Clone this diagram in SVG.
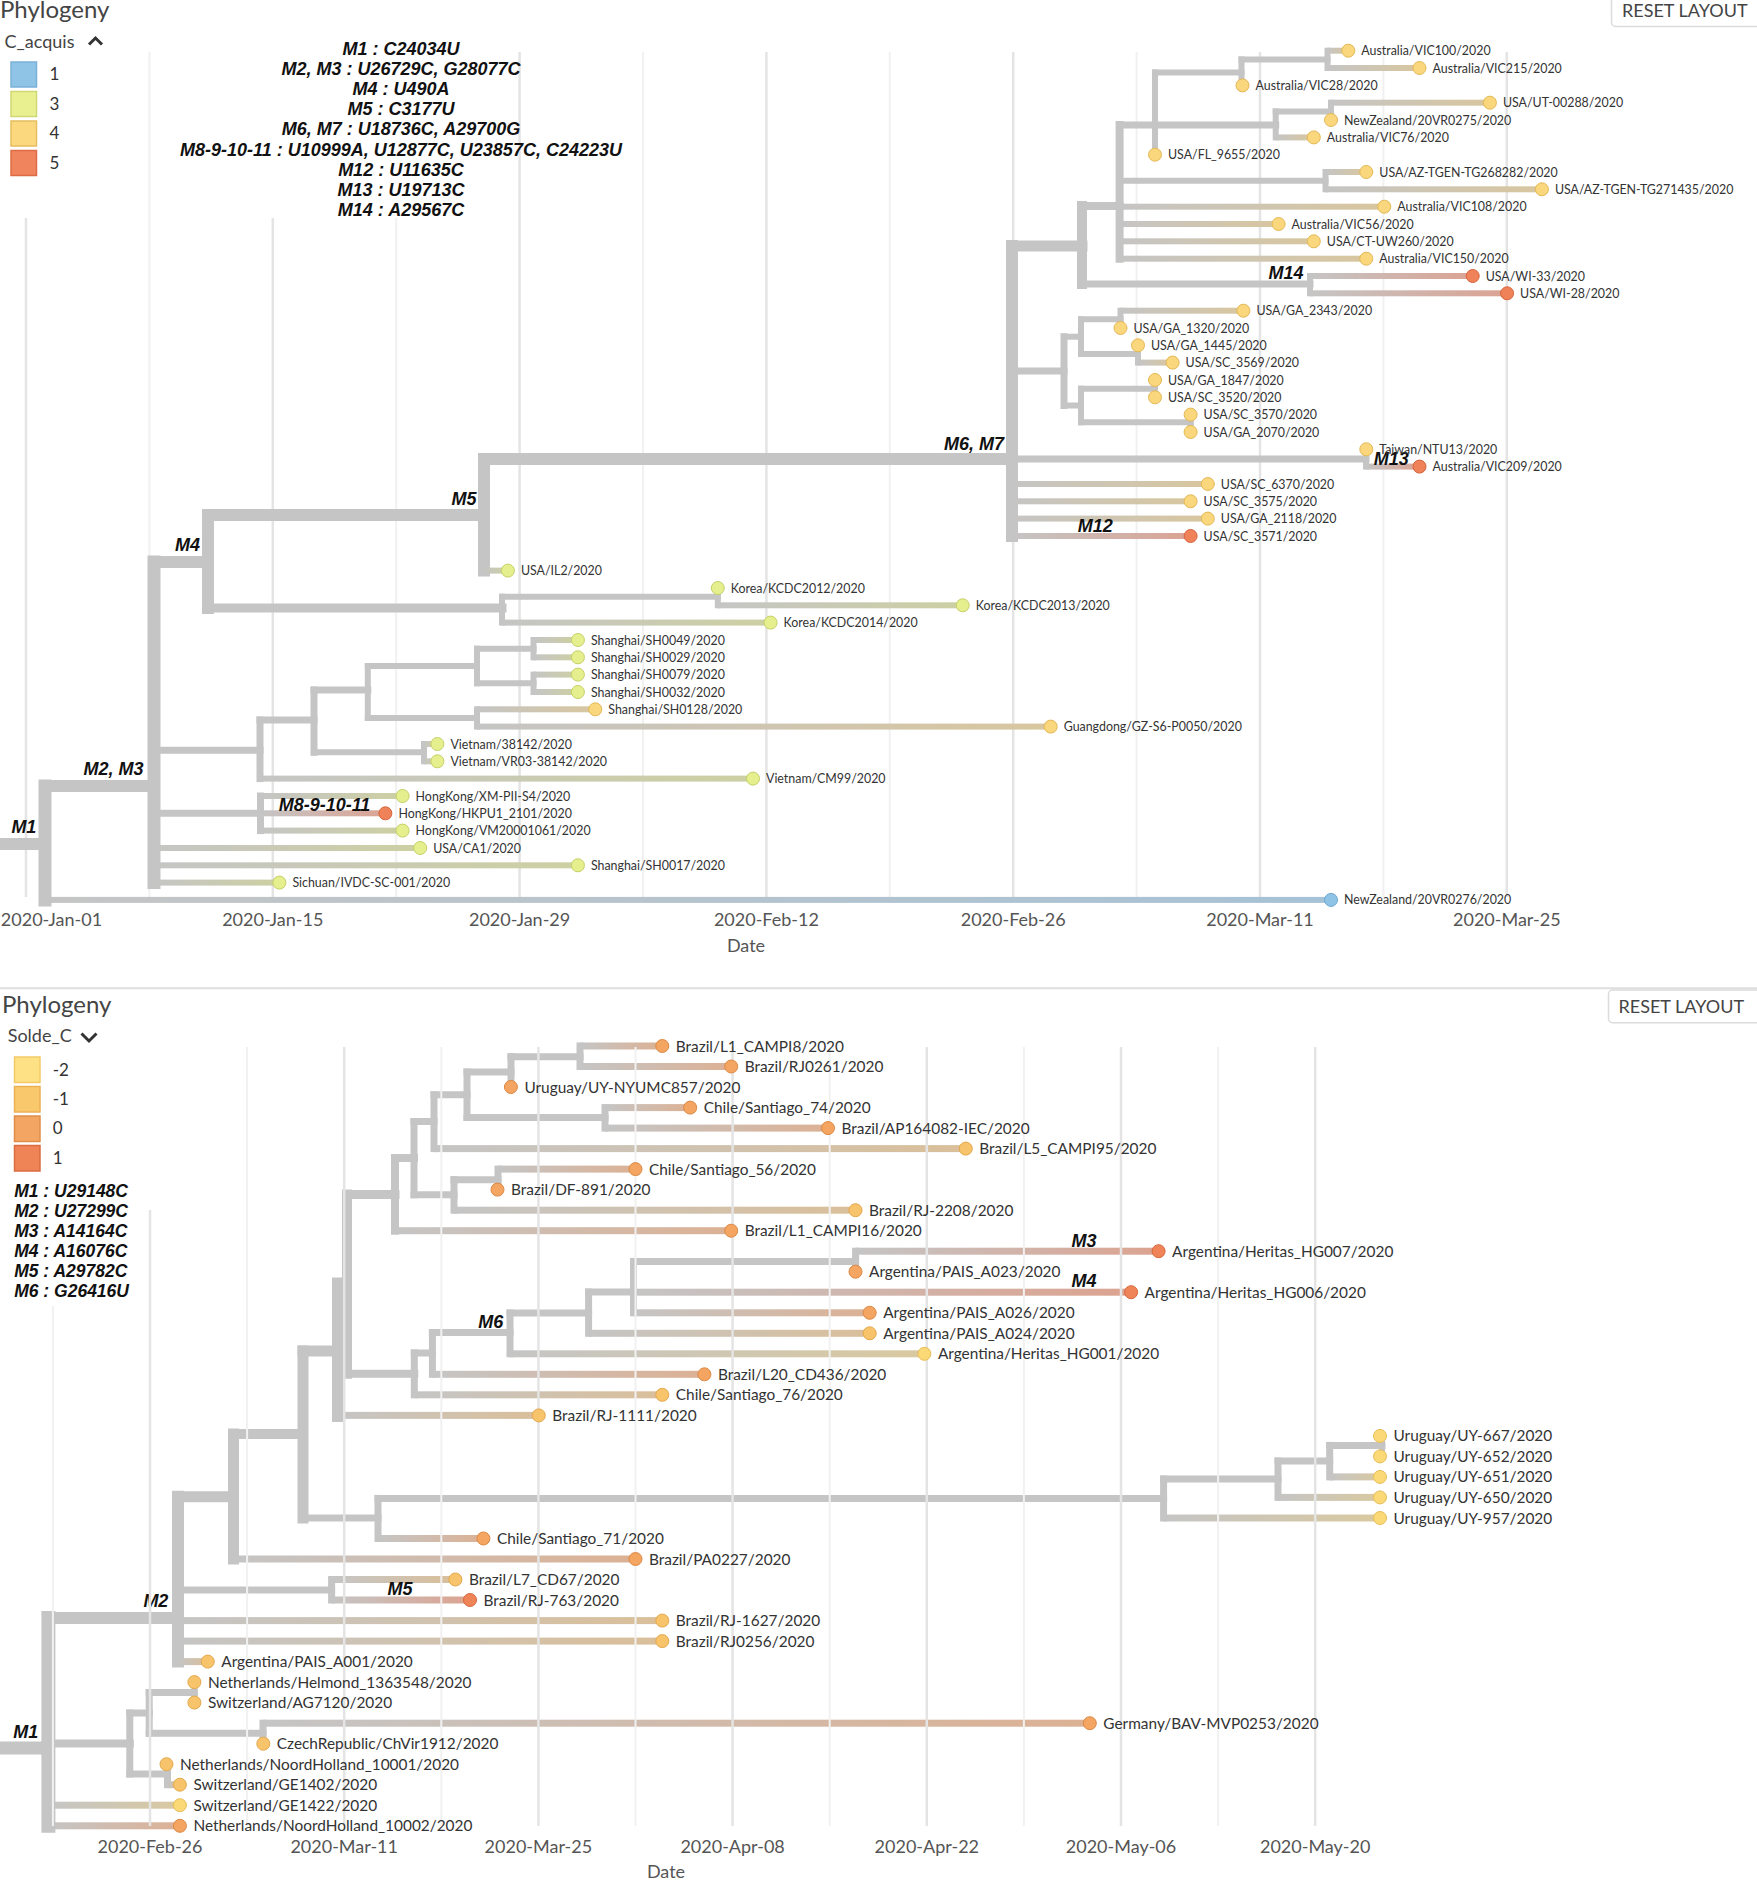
<svg xmlns="http://www.w3.org/2000/svg" width="1757" height="1887" viewBox="0 0 1757 1887">
<style>
.ttl{font-family:Lato,'Open Sans',sans-serif;font-size:24px;fill:#444}
.sel{font-family:Lato,'Open Sans',sans-serif;font-size:18px;fill:#444}
.lg{font-family:Lato,'Open Sans',sans-serif;font-size:17px;fill:#333}
.btn{font-family:Lato,'Open Sans',sans-serif;font-size:18px;fill:#444}
.ax{font-family:Lato,'Open Sans',sans-serif;font-size:18px;fill:#555;text-anchor:middle}
.mu{font-family:'Liberation Sans',Arial,sans-serif;font-weight:bold;font-style:italic;font-size:17.5px;fill:#111}
.mum{font-family:'Liberation Sans',Arial,sans-serif;font-weight:bold;font-style:italic;font-size:18px;fill:#111;text-anchor:middle}
.me{font-family:'Liberation Sans',Arial,sans-serif;font-weight:bold;font-style:italic;font-size:18px;fill:#111;text-anchor:end}
.tl{font-family:Lato,'Open Sans',sans-serif;font-size:12.4px;fill:#333}
.bl{font-family:Lato,'Open Sans',sans-serif;font-size:15.4px;fill:#333}
.gd{stroke:#e4e4e4;stroke-width:2.5}
.gl{stroke:#f1f1f1;stroke-width:2}
.br line{stroke:#c5c5c5;stroke-linecap:square}
.c1{fill:#8fc4e6;stroke:#6fa8d0;stroke-width:1}
.c3{fill:#e6ef8e;stroke:#c6d067;stroke-width:1}
.c4{fill:#fad77c;stroke:#e3b856;stroke-width:1}
.c5{fill:#f0825a;stroke:#d6653e;stroke-width:1}
.m2{fill:#fbd977;stroke:#e7bd58;stroke-width:1}
.m1{fill:#f8c46b;stroke:#e4a84e;stroke-width:1}
.z0{fill:#f3a561;stroke:#dc8945;stroke-width:1}
.p1{fill:#ef8458;stroke:#d6683d;stroke-width:1}
</style>
<defs>
<linearGradient id="g1" x1="0" y1="0" x2="1" y2="0"><stop offset="0" stop-color="#c5c5c5"/><stop offset="1" stop-color="#a6c2d6"/></linearGradient>
<linearGradient id="g3" x1="0" y1="0" x2="1" y2="0"><stop offset="0" stop-color="#c5c5c5"/><stop offset="1" stop-color="#cdd0a2"/></linearGradient>
<linearGradient id="g4" x1="0" y1="0" x2="1" y2="0"><stop offset="0" stop-color="#c5c5c5"/><stop offset="1" stop-color="#d8c69e"/></linearGradient>
<linearGradient id="g5" x1="0" y1="0" x2="1" y2="0"><stop offset="0" stop-color="#c5c5c5"/><stop offset="1" stop-color="#dba393"/></linearGradient>
<linearGradient id="gm2" x1="0" y1="0" x2="1" y2="0"><stop offset="0" stop-color="#c5c5c5"/><stop offset="1" stop-color="#d9c9a0"/></linearGradient>
<linearGradient id="gm1" x1="0" y1="0" x2="1" y2="0"><stop offset="0" stop-color="#c5c5c5"/><stop offset="1" stop-color="#dabf9a"/></linearGradient>
<linearGradient id="gz0" x1="0" y1="0" x2="1" y2="0"><stop offset="0" stop-color="#c5c5c5"/><stop offset="1" stop-color="#dcb194"/></linearGradient>
<linearGradient id="gp1" x1="0" y1="0" x2="1" y2="0"><stop offset="0" stop-color="#c5c5c5"/><stop offset="1" stop-color="#dca390"/></linearGradient>
</defs>
<rect x="0" y="0" width="1757" height="1887" fill="#fff"/>

<!-- ================= TOP PANEL ================= -->
<g id="top-grid">
<line class="gd" x1="26" y1="218" x2="26" y2="897"/>
<line class="gl" x1="149.4" y1="52" x2="149.4" y2="897"/>
<line class="gd" x1="272.8" y1="218" x2="272.8" y2="897"/>
<line class="gl" x1="396.2" y1="218" x2="396.2" y2="897"/>
<line class="gd" x1="519.6" y1="52" x2="519.6" y2="897"/>
<line class="gl" x1="643" y1="52" x2="643" y2="897"/>
<line class="gd" x1="766.4" y1="52" x2="766.4" y2="897"/>
<line class="gl" x1="889.8" y1="52" x2="889.8" y2="897"/>
<line class="gd" x1="1013.2" y1="52" x2="1013.2" y2="897"/>
<line class="gl" x1="1136.6" y1="52" x2="1136.6" y2="897"/>
<line class="gd" x1="1260" y1="52" x2="1260" y2="897"/>
<line class="gl" x1="1383.4" y1="52" x2="1383.4" y2="897"/>
<line class="gd" x1="1506.8" y1="52" x2="1506.8" y2="897"/>
</g>
<g id="top-header">
<text class="ttl" x="0" y="18">Phylogeny</text>
<text class="sel" x="4.5" y="48">C_acquis</text>
<polyline points="89,44.5 95.5,38 102,44.5" fill="none" stroke="#333" stroke-width="3"/>
<rect x="1611.5" y="-6" width="160" height="32.5" rx="4" fill="#fff" stroke="#dcdcdc" stroke-width="1.5"/>
<text class="btn" x="1622" y="17">RESET LAYOUT</text>
</g>
<g id="top-legend">
<rect x="11" y="62" width="25.5" height="25" fill="#8fc4e6" stroke="#7ab1d9" stroke-width="1.5"/>
<rect x="11" y="91.5" width="25.5" height="25" fill="#e8f090" stroke="#d0d876" stroke-width="1.5"/>
<rect x="11" y="121" width="25.5" height="25" fill="#fbd87e" stroke="#e6bd5f" stroke-width="1.5"/>
<rect x="11" y="150.5" width="25.5" height="25" fill="#f0845d" stroke="#dd6c46" stroke-width="1.5"/>
<text class="lg" x="49.5" y="80">1</text>
<text class="lg" x="49.5" y="110">3</text>
<text class="lg" x="49.5" y="139">4</text>
<text class="lg" x="49.5" y="169">5</text>
</g>
<g id="top-mutations">
<text class="mum" x="401" y="55">M1 : C24034U</text>
<text class="mum" x="401" y="75">M2, M3 : U26729C, G28077C</text>
<text class="mum" x="401" y="95">M4 : U490A</text>
<text class="mum" x="401" y="115">M5 : C3177U</text>
<text class="mum" x="401" y="135">M6, M7 : U18736C, A29700G</text>
<text class="mum" x="401" y="156">M8-9-10-11 : U10999A, U12877C, U23857C, C24223U</text>
<text class="mum" x="401" y="176">M12 : U11635C</text>
<text class="mum" x="401" y="196">M13 : U19713C</text>
<text class="mum" x="401" y="216">M14 : A29567C</text>
</g>
<g id="top-axis">
<text class="ax" x="51.5" y="926">2020-Jan-01</text>
<text class="ax" x="272.8" y="926">2020-Jan-15</text>
<text class="ax" x="519.6" y="926">2020-Jan-29</text>
<text class="ax" x="766.4" y="926">2020-Feb-12</text>
<text class="ax" x="1013.2" y="926">2020-Feb-26</text>
<text class="ax" x="1260" y="926">2020-Mar-11</text>
<text class="ax" x="1506.8" y="926">2020-Mar-25</text>
<text class="ax" x="746" y="952">Date</text>
</g>

<g id="connectors">
<g id="top-branches" class="br">
<line x1="0" y1="844" x2="45" y2="844" stroke-width="12"/>
<line x1="45" y1="786" x2="45" y2="899.9" stroke-width="13"/>
<line x1="45" y1="786" x2="154" y2="786" stroke-width="12"/>
<line x1="154" y1="562" x2="154" y2="882.6" stroke-width="13"/>
<line x1="154" y1="562" x2="208" y2="562" stroke-width="12"/>
<line x1="208" y1="515" x2="208" y2="608" stroke-width="12"/>
<line x1="208" y1="515" x2="484" y2="515" stroke-width="12"/>
<line x1="484" y1="459" x2="484" y2="570.6" stroke-width="12"/>
<line x1="484" y1="459" x2="1012" y2="459" stroke-width="12"/>
<line x1="1012" y1="246" x2="1012" y2="536" stroke-width="12"/>
<line x1="1012" y1="246" x2="1082" y2="246" stroke-width="11"/>
<line x1="1082" y1="206" x2="1082" y2="284" stroke-width="10"/>
<line x1="1082" y1="206" x2="1119.6" y2="206" stroke-width="8"/>
<line x1="1119.6" y1="125" x2="1119.6" y2="258.7" stroke-width="8"/>
<line x1="1119.6" y1="125" x2="1275.7" y2="125" stroke-width="7"/>
<line x1="1155" y1="72.4" x2="1155" y2="154.7" stroke-width="6"/>
<line x1="1155" y1="72.4" x2="1241.5" y2="72.4" stroke-width="6"/>
<line x1="1241.5" y1="59.4" x2="1241.5" y2="85.4" stroke-width="6"/>
<line x1="1241.5" y1="59.4" x2="1327.5" y2="59.4" stroke-width="6"/>
<line x1="1327.5" y1="50.7" x2="1327.5" y2="68" stroke-width="6"/>
<line x1="1275.7" y1="111.4" x2="1275.7" y2="137.4" stroke-width="6"/>
<line x1="1275.7" y1="111.4" x2="1331" y2="111.4" stroke-width="6"/>
<line x1="1331" y1="102.7" x2="1331" y2="120" stroke-width="6"/>
<line x1="1119.6" y1="180.7" x2="1325.5" y2="180.7" stroke-width="6"/>
<line x1="1325.5" y1="172" x2="1325.5" y2="189.3" stroke-width="6"/>
<line x1="1082" y1="284" x2="1310" y2="284" stroke-width="7"/>
<line x1="1310" y1="276" x2="1310" y2="293.3" stroke-width="6"/>
<line x1="1012" y1="371" x2="1064" y2="371" stroke-width="7"/>
<line x1="1064" y1="336.7" x2="1064" y2="405.5" stroke-width="7"/>
<line x1="1064" y1="336.7" x2="1081" y2="336.7" stroke-width="6"/>
<line x1="1081" y1="319.3" x2="1081" y2="354" stroke-width="6"/>
<line x1="1081" y1="319.3" x2="1120.5" y2="319.3" stroke-width="6"/>
<line x1="1120.5" y1="310.7" x2="1120.5" y2="328" stroke-width="6"/>
<line x1="1081" y1="354" x2="1138" y2="354" stroke-width="6"/>
<line x1="1138" y1="345.3" x2="1138" y2="362.6" stroke-width="6"/>
<line x1="1064" y1="405.5" x2="1081" y2="405.5" stroke-width="6"/>
<line x1="1081" y1="388.7" x2="1081" y2="422.3" stroke-width="6"/>
<line x1="1081" y1="388.7" x2="1155" y2="388.7" stroke-width="6"/>
<line x1="1155" y1="380" x2="1155" y2="397.3" stroke-width="6"/>
<line x1="1081" y1="422.3" x2="1190.6" y2="422.3" stroke-width="6"/>
<line x1="1190.6" y1="414.6" x2="1190.6" y2="432" stroke-width="6"/>
<line x1="1012" y1="459" x2="1366" y2="459" stroke-width="7"/>
<line x1="1366" y1="449.3" x2="1366" y2="466.6" stroke-width="6"/>
<line x1="208" y1="608" x2="502" y2="608" stroke-width="9"/>
<line x1="502" y1="596.7" x2="502" y2="622.6" stroke-width="6"/>
<line x1="502" y1="596.7" x2="717.8" y2="596.7" stroke-width="6"/>
<line x1="717.8" y1="588" x2="717.8" y2="605.3" stroke-width="6"/>
<line x1="154" y1="750.3" x2="260" y2="750.3" stroke-width="7"/>
<line x1="260" y1="720" x2="260" y2="778.6" stroke-width="7"/>
<line x1="260" y1="720" x2="314" y2="720" stroke-width="7"/>
<line x1="314" y1="690" x2="314" y2="752.3" stroke-width="7"/>
<line x1="314" y1="690" x2="367.8" y2="690" stroke-width="7"/>
<line x1="367.8" y1="666" x2="367.8" y2="718" stroke-width="6"/>
<line x1="367.8" y1="666" x2="477" y2="666" stroke-width="6"/>
<line x1="477" y1="648.7" x2="477" y2="683.3" stroke-width="6"/>
<line x1="477" y1="648.7" x2="533.5" y2="648.7" stroke-width="6"/>
<line x1="533.5" y1="640" x2="533.5" y2="657.3" stroke-width="6"/>
<line x1="477" y1="683.3" x2="533.5" y2="683.3" stroke-width="6"/>
<line x1="533.5" y1="674.6" x2="533.5" y2="692" stroke-width="6"/>
<line x1="367.8" y1="718" x2="477" y2="718" stroke-width="6"/>
<line x1="477" y1="709.3" x2="477" y2="726.6" stroke-width="6"/>
<line x1="314" y1="752.3" x2="424" y2="752.3" stroke-width="6"/>
<line x1="424" y1="744" x2="424" y2="761.3" stroke-width="6"/>
<line x1="154" y1="813.3" x2="260.5" y2="813.3" stroke-width="7"/>
<line x1="260.5" y1="796" x2="260.5" y2="830.6" stroke-width="7"/>
</g>
<g id="top-tip-branches">
<rect x="45" y="896.9" width="1286" height="6" fill="url(#g1)"/>
<rect x="1327.5" y="47.7" width="20.8" height="6" fill="url(#g4)"/>
<rect x="1327.5" y="65" width="92" height="6" fill="url(#g4)"/>
<rect x="1331" y="99.7" width="158.9" height="6" fill="url(#g4)"/>
<rect x="1275.7" y="134.4" width="38.1" height="6" fill="url(#g4)"/>
<rect x="1325.5" y="169" width="40.8" height="6" fill="url(#g4)"/>
<rect x="1325.5" y="186.3" width="216.4" height="6" fill="url(#g4)"/>
<rect x="1119.6" y="203.7" width="264.7" height="6" fill="url(#g4)"/>
<rect x="1119.6" y="221" width="159" height="6" fill="url(#g4)"/>
<rect x="1119.6" y="238.3" width="194.2" height="6" fill="url(#g4)"/>
<rect x="1119.6" y="255.7" width="246.7" height="6" fill="url(#g4)"/>
<rect x="1310" y="273" width="162.7" height="6" fill="url(#g5)"/>
<rect x="1310" y="290.3" width="197.1" height="6" fill="url(#g5)"/>
<rect x="1120.5" y="307.7" width="122.9" height="6" fill="url(#g4)"/>
<rect x="1138" y="359.6" width="34.6" height="6" fill="url(#g4)"/>
<rect x="1366" y="463.6" width="53.5" height="6" fill="url(#g5)"/>
<rect x="1012" y="481" width="195.8" height="6" fill="url(#g4)"/>
<rect x="1012" y="498.3" width="178.6" height="6" fill="url(#g4)"/>
<rect x="1012" y="515.6" width="195.8" height="6" fill="url(#g4)"/>
<rect x="1012" y="533" width="178.6" height="6" fill="url(#g5)"/>
<rect x="484" y="567.6" width="23.9" height="6" fill="url(#g3)"/>
<rect x="717.8" y="602.3" width="244.9" height="6" fill="url(#g3)"/>
<rect x="502" y="619.6" width="268.6" height="6" fill="url(#g3)"/>
<rect x="533.5" y="637" width="44.4" height="6" fill="url(#g3)"/>
<rect x="533.5" y="654.3" width="44.4" height="6" fill="url(#g3)"/>
<rect x="533.5" y="671.6" width="44.4" height="6" fill="url(#g3)"/>
<rect x="533.5" y="689" width="44.4" height="6" fill="url(#g3)"/>
<rect x="477" y="706.3" width="118.3" height="6" fill="url(#g4)"/>
<rect x="477" y="723.6" width="573.7" height="6" fill="url(#g4)"/>
<rect x="424" y="741" width="13.4" height="6" fill="url(#g3)"/>
<rect x="424" y="758.3" width="13.4" height="6" fill="url(#g3)"/>
<rect x="260" y="775.6" width="493" height="6" fill="url(#g3)"/>
<rect x="260.5" y="793" width="142.1" height="6" fill="url(#g3)"/>
<rect x="260.5" y="810.3" width="124.9" height="6" fill="url(#g5)"/>
<rect x="260.5" y="827.6" width="142.1" height="6" fill="url(#g3)"/>
<rect x="154" y="845" width="266.2" height="6" fill="url(#g3)"/>
<rect x="154" y="862.3" width="423.9" height="6" fill="url(#g3)"/>
<rect x="154" y="879.6" width="125.4" height="6" fill="url(#g3)"/>
</g>
<g id="top-branch-labels">
<text class="me" x="36.4" y="833">M1</text>
<text class="me" x="143.5" y="775">M2, M3</text>
<text class="me" x="200" y="551">M4</text>
<text class="me" x="476.5" y="505">M5</text>
<text class="me" x="1004" y="450">M6, M7</text>
<text class="me" x="370.4" y="810.7">M8-9-10-11</text>
<text class="me" x="1112.7" y="531.7">M12</text>
<text class="me" x="1408.8" y="465">M13</text>
<text class="me" x="1303.5" y="279.3">M14</text>
</g>

<g id="bottom-branches" class="br">
<line x1="2" y1="1748" x2="48.4" y2="1748" stroke-width="13"/>
<line x1="48.4" y1="1618" x2="48.4" y2="1825.8" stroke-width="14"/>
<line x1="48.4" y1="1618" x2="178" y2="1618" stroke-width="12"/>
<line x1="48.4" y1="1743.5" x2="129.8" y2="1743.5" stroke-width="8"/>
<line x1="129.8" y1="1713" x2="129.8" y2="1774" stroke-width="7"/>
<line x1="129.8" y1="1713" x2="149.2" y2="1713" stroke-width="7"/>
<line x1="149.2" y1="1692.5" x2="149.2" y2="1733.3" stroke-width="7"/>
<line x1="149.2" y1="1692.5" x2="194.4" y2="1692.5" stroke-width="7"/>
<line x1="194.4" y1="1682.1" x2="194.4" y2="1702.6" stroke-width="6"/>
<line x1="149.2" y1="1733.3" x2="263" y2="1733.3" stroke-width="7"/>
<line x1="263" y1="1723.2" x2="263" y2="1743.7" stroke-width="7"/>
<line x1="129.8" y1="1774" x2="167.5" y2="1774" stroke-width="7"/>
<line x1="167.5" y1="1764.2" x2="167.5" y2="1784.7" stroke-width="7"/>
<line x1="178" y1="1496.7" x2="178" y2="1661.6" stroke-width="12"/>
<line x1="178" y1="1496.7" x2="233.5" y2="1496.7" stroke-width="11"/>
<line x1="178" y1="1590" x2="331.6" y2="1590" stroke-width="7"/>
<line x1="331.6" y1="1579.5" x2="331.6" y2="1600" stroke-width="7"/>
<line x1="233.5" y1="1434" x2="233.5" y2="1559" stroke-width="11"/>
<line x1="233.5" y1="1434" x2="303" y2="1434" stroke-width="10"/>
<line x1="303" y1="1351" x2="303" y2="1518" stroke-width="11"/>
<line x1="303" y1="1351" x2="338.5" y2="1351" stroke-width="11"/>
<line x1="303" y1="1518" x2="378" y2="1518" stroke-width="7"/>
<line x1="378" y1="1498.4" x2="378" y2="1538.5" stroke-width="7"/>
<line x1="378" y1="1498.4" x2="1163.6" y2="1498.4" stroke-width="7"/>
<line x1="1163.6" y1="1479" x2="1163.6" y2="1518" stroke-width="7"/>
<line x1="1163.6" y1="1479" x2="1278" y2="1479" stroke-width="7"/>
<line x1="1278" y1="1461" x2="1278" y2="1497.4" stroke-width="7"/>
<line x1="1278" y1="1461" x2="1329.7" y2="1461" stroke-width="7"/>
<line x1="1329.7" y1="1445.4" x2="1329.7" y2="1476.9" stroke-width="7"/>
<line x1="1329.7" y1="1445.4" x2="1382" y2="1445.4" stroke-width="7"/>
<line x1="1382" y1="1435.9" x2="1382" y2="1456.4" stroke-width="6"/>
<line x1="338.5" y1="1284" x2="338.5" y2="1415.4" stroke-width="13"/>
<line x1="338.5" y1="1284" x2="347" y2="1284" stroke-width="10"/>
<line x1="347" y1="1194.4" x2="347" y2="1373.7" stroke-width="10"/>
<line x1="347" y1="1194.4" x2="395" y2="1194.4" stroke-width="9"/>
<line x1="347" y1="1373.7" x2="414.3" y2="1373.7" stroke-width="8"/>
<line x1="395" y1="1158" x2="395" y2="1230.7" stroke-width="8"/>
<line x1="395" y1="1158" x2="414" y2="1158" stroke-width="8"/>
<line x1="414" y1="1121.5" x2="414" y2="1194.8" stroke-width="7"/>
<line x1="414" y1="1121.5" x2="434" y2="1121.5" stroke-width="7"/>
<line x1="414" y1="1194.8" x2="454" y2="1194.8" stroke-width="7"/>
<line x1="434" y1="1094.8" x2="434" y2="1148.6" stroke-width="7"/>
<line x1="434" y1="1094.8" x2="467" y2="1094.8" stroke-width="7"/>
<line x1="467" y1="1072" x2="467" y2="1117.5" stroke-width="7"/>
<line x1="467" y1="1072" x2="511" y2="1072" stroke-width="7"/>
<line x1="467" y1="1117.5" x2="605" y2="1117.5" stroke-width="7"/>
<line x1="511" y1="1056.7" x2="511" y2="1087" stroke-width="7"/>
<line x1="511" y1="1056.7" x2="580" y2="1056.7" stroke-width="7"/>
<line x1="580" y1="1046" x2="580" y2="1066.5" stroke-width="7"/>
<line x1="605" y1="1107.6" x2="605" y2="1128.1" stroke-width="7"/>
<line x1="454" y1="1179.7" x2="454" y2="1210.2" stroke-width="7"/>
<line x1="454" y1="1179.7" x2="498" y2="1179.7" stroke-width="7"/>
<line x1="498" y1="1169.1" x2="498" y2="1189.6" stroke-width="7"/>
<line x1="414.3" y1="1353" x2="414.3" y2="1394.8" stroke-width="7"/>
<line x1="414.3" y1="1353" x2="432.4" y2="1353" stroke-width="7"/>
<line x1="432.4" y1="1332.5" x2="432.4" y2="1374.3" stroke-width="7"/>
<line x1="432.4" y1="1332.5" x2="510" y2="1332.5" stroke-width="7"/>
<line x1="510" y1="1313" x2="510" y2="1353.8" stroke-width="7"/>
<line x1="510" y1="1313" x2="588.6" y2="1313" stroke-width="7"/>
<line x1="588.6" y1="1292" x2="588.6" y2="1333.3" stroke-width="7"/>
<line x1="588.6" y1="1292" x2="633.5" y2="1292" stroke-width="7"/>
<line x1="633.5" y1="1261.4" x2="633.5" y2="1312.8" stroke-width="7"/>
<line x1="633.5" y1="1261.4" x2="855.6" y2="1261.4" stroke-width="7"/>
<line x1="855.6" y1="1251.2" x2="855.6" y2="1271.7" stroke-width="7"/>
</g>
<g id="bottom-tip-branches">
<rect x="48.4" y="1801.7" width="131.5" height="7" fill="url(#gm2)"/>
<rect x="48.4" y="1822.3" width="131.5" height="7" fill="url(#gz0)"/>
<rect x="263" y="1719.7" width="826.8" height="7" fill="url(#gz0)"/>
<rect x="167.5" y="1781.2" width="12.4" height="7" fill="url(#gm1)"/>
<rect x="331.6" y="1576" width="123.8" height="7" fill="url(#gm1)"/>
<rect x="331.6" y="1596.5" width="138.4" height="7" fill="url(#gp1)"/>
<rect x="178" y="1617.1" width="484.3" height="7" fill="url(#gm1)"/>
<rect x="178" y="1637.6" width="484.3" height="7" fill="url(#gm1)"/>
<rect x="178" y="1658.1" width="29.8" height="7" fill="url(#gm1)"/>
<rect x="233.5" y="1555.5" width="402" height="7" fill="url(#gz0)"/>
<rect x="378" y="1535" width="105.4" height="7" fill="url(#gz0)"/>
<rect x="1163.6" y="1514.5" width="216.4" height="7" fill="url(#gm2)"/>
<rect x="1278" y="1493.9" width="102" height="7" fill="url(#gm2)"/>
<rect x="1329.7" y="1473.4" width="50.3" height="7" fill="url(#gm2)"/>
<rect x="338.5" y="1411.9" width="200.3" height="7" fill="url(#gm1)"/>
<rect x="395" y="1227.2" width="336.2" height="7" fill="url(#gz0)"/>
<rect x="434" y="1145.1" width="531.8" height="7" fill="url(#gm1)"/>
<rect x="580" y="1042.5" width="82.3" height="7" fill="url(#gz0)"/>
<rect x="580" y="1063" width="151.2" height="7" fill="url(#gz0)"/>
<rect x="605" y="1104.1" width="85.2" height="7" fill="url(#gz0)"/>
<rect x="605" y="1124.6" width="223" height="7" fill="url(#gz0)"/>
<rect x="454" y="1206.7" width="401.5" height="7" fill="url(#gm1)"/>
<rect x="498" y="1165.6" width="137.5" height="7" fill="url(#gz0)"/>
<rect x="414.3" y="1391.3" width="248" height="7" fill="url(#gm1)"/>
<rect x="432.4" y="1370.8" width="272" height="7" fill="url(#gz0)"/>
<rect x="510" y="1350.3" width="414.4" height="7" fill="url(#gm2)"/>
<rect x="588.6" y="1329.8" width="281.1" height="7" fill="url(#gm1)"/>
<rect x="633.5" y="1288.7" width="497.6" height="7" fill="url(#gp1)"/>
<rect x="633.5" y="1309.3" width="236.2" height="7" fill="url(#gz0)"/>
<rect x="855.6" y="1247.7" width="303" height="7" fill="url(#gp1)"/>
</g>
<g id="bottom-branch-labels">
<text class="me" x="38.3" y="1738.3">M1</text>
<text class="me" x="168.4" y="1607.3">M2</text>
<text class="me" x="1096.6" y="1246.7">M3</text>
<text class="me" x="1096.6" y="1287.3">M4</text>
<text class="me" x="412.5" y="1595">M5</text>
<text class="me" x="503.3" y="1328.3">M6</text>
</g>
</g>

<g id="top-tips">
<g id="t01"><circle class="c4" cx="1348.3" cy="50.7" r="6.5"/><text class="tl" x="1361.3" y="55.2">Australia/VIC100/2020</text></g>
<g id="t02"><circle class="c4" cx="1419.5" cy="68" r="6.5"/><text class="tl" x="1432.5" y="72.5">Australia/VIC215/2020</text></g>
<g id="t03"><circle class="c4" cx="1242.5" cy="85.4" r="6.5"/><text class="tl" x="1255.5" y="89.9">Australia/VIC28/2020</text></g>
<g id="t04"><circle class="c4" cx="1489.9" cy="102.7" r="6.5"/><text class="tl" x="1502.9" y="107.2">USA/UT-00288/2020</text></g>
<g id="t05"><circle class="c4" cx="1331" cy="120" r="6.5"/><text class="tl" x="1344" y="124.5">NewZealand/20VR0275/2020</text></g>
<g id="t06"><circle class="c4" cx="1313.8" cy="137.4" r="6.5"/><text class="tl" x="1326.8" y="141.9">Australia/VIC76/2020</text></g>
<g id="t07"><circle class="c4" cx="1155" cy="154.7" r="6.5"/><text class="tl" x="1168" y="159.2">USA/FL_9655/2020</text></g>
<g id="t08"><circle class="c4" cx="1366.3" cy="172" r="6.5"/><text class="tl" x="1379.3" y="176.5">USA/AZ-TGEN-TG268282/2020</text></g>
<g id="t09"><circle class="c4" cx="1541.9" cy="189.3" r="6.5"/><text class="tl" x="1554.9" y="193.8">USA/AZ-TGEN-TG271435/2020</text></g>
<g id="t10"><circle class="c4" cx="1384.3" cy="206.7" r="6.5"/><text class="tl" x="1397.3" y="211.2">Australia/VIC108/2020</text></g>
<g id="t11"><circle class="c4" cx="1278.6" cy="224" r="6.5"/><text class="tl" x="1291.6" y="228.5">Australia/VIC56/2020</text></g>
<g id="t12"><circle class="c4" cx="1313.8" cy="241.3" r="6.5"/><text class="tl" x="1326.8" y="245.8">USA/CT-UW260/2020</text></g>
<g id="t13"><circle class="c4" cx="1366.3" cy="258.7" r="6.5"/><text class="tl" x="1379.3" y="263.2">Australia/VIC150/2020</text></g>
<g id="t14"><circle class="c5" cx="1472.7" cy="276" r="6.5"/><text class="tl" x="1485.7" y="280.5">USA/WI-33/2020</text></g>
<g id="t15"><circle class="c5" cx="1507.1" cy="293.3" r="6.5"/><text class="tl" x="1520.1" y="297.8">USA/WI-28/2020</text></g>
<g id="t16"><circle class="c4" cx="1243.4" cy="310.7" r="6.5"/><text class="tl" x="1256.4" y="315.2">USA/GA_2343/2020</text></g>
<g id="t17"><circle class="c4" cx="1120.5" cy="328" r="6.5"/><text class="tl" x="1133.5" y="332.5">USA/GA_1320/2020</text></g>
<g id="t18"><circle class="c4" cx="1138" cy="345.3" r="6.5"/><text class="tl" x="1151" y="349.8">USA/GA_1445/2020</text></g>
<g id="t19"><circle class="c4" cx="1172.6" cy="362.6" r="6.5"/><text class="tl" x="1185.6" y="367.1">USA/SC_3569/2020</text></g>
<g id="t20"><circle class="c4" cx="1155" cy="380" r="6.5"/><text class="tl" x="1168" y="384.5">USA/GA_1847/2020</text></g>
<g id="t21"><circle class="c4" cx="1155" cy="397.3" r="6.5"/><text class="tl" x="1168" y="401.8">USA/SC_3520/2020</text></g>
<g id="t22"><circle class="c4" cx="1190.6" cy="414.6" r="6.5"/><text class="tl" x="1203.6" y="419.1">USA/SC_3570/2020</text></g>
<g id="t23"><circle class="c4" cx="1190.6" cy="432" r="6.5"/><text class="tl" x="1203.6" y="436.5">USA/GA_2070/2020</text></g>
<g id="t24"><circle class="c4" cx="1366.3" cy="449.3" r="6.5"/><text class="tl" x="1379.3" y="453.8">Taiwan/NTU13/2020</text></g>
<g id="t25"><circle class="c5" cx="1419.5" cy="466.6" r="6.5"/><text class="tl" x="1432.5" y="471.1">Australia/VIC209/2020</text></g>
<g id="t26"><circle class="c4" cx="1207.8" cy="484" r="6.5"/><text class="tl" x="1220.8" y="488.5">USA/SC_6370/2020</text></g>
<g id="t27"><circle class="c4" cx="1190.6" cy="501.3" r="6.5"/><text class="tl" x="1203.6" y="505.8">USA/SC_3575/2020</text></g>
<g id="t28"><circle class="c4" cx="1207.8" cy="518.6" r="6.5"/><text class="tl" x="1220.8" y="523.1">USA/GA_2118/2020</text></g>
<g id="t29"><circle class="c5" cx="1190.6" cy="536" r="6.5"/><text class="tl" x="1203.6" y="540.5">USA/SC_3571/2020</text></g>
<g id="t30"><circle class="c3" cx="507.9" cy="570.6" r="6.5"/><text class="tl" x="520.9" y="575.1">USA/IL2/2020</text></g>
<g id="t31"><circle class="c3" cx="717.8" cy="588" r="6.5"/><text class="tl" x="730.8" y="592.5">Korea/KCDC2012/2020</text></g>
<g id="t32"><circle class="c3" cx="962.7" cy="605.3" r="6.5"/><text class="tl" x="975.7" y="609.8">Korea/KCDC2013/2020</text></g>
<g id="t33"><circle class="c3" cx="770.6" cy="622.6" r="6.5"/><text class="tl" x="783.6" y="627.1">Korea/KCDC2014/2020</text></g>
<g id="t34"><circle class="c3" cx="577.9" cy="640" r="6.5"/><text class="tl" x="590.9" y="644.5">Shanghai/SH0049/2020</text></g>
<g id="t35"><circle class="c3" cx="577.9" cy="657.3" r="6.5"/><text class="tl" x="590.9" y="661.8">Shanghai/SH0029/2020</text></g>
<g id="t36"><circle class="c3" cx="577.9" cy="674.6" r="6.5"/><text class="tl" x="590.9" y="679.1">Shanghai/SH0079/2020</text></g>
<g id="t37"><circle class="c3" cx="577.9" cy="692" r="6.5"/><text class="tl" x="590.9" y="696.5">Shanghai/SH0032/2020</text></g>
<g id="t38"><circle class="c4" cx="595.3" cy="709.3" r="6.5"/><text class="tl" x="608.3" y="713.8">Shanghai/SH0128/2020</text></g>
<g id="t39"><circle class="c4" cx="1050.7" cy="726.6" r="6.5"/><text class="tl" x="1063.7" y="731.1">Guangdong/GZ-S6-P0050/2020</text></g>
<g id="t40"><circle class="c3" cx="437.4" cy="744" r="6.5"/><text class="tl" x="450.4" y="748.5">Vietnam/38142/2020</text></g>
<g id="t41"><circle class="c3" cx="437.4" cy="761.3" r="6.5"/><text class="tl" x="450.4" y="765.8">Vietnam/VR03-38142/2020</text></g>
<g id="t42"><circle class="c3" cx="753" cy="778.6" r="6.5"/><text class="tl" x="766" y="783.1">Vietnam/CM99/2020</text></g>
<g id="t43"><circle class="c3" cx="402.6" cy="796" r="6.5"/><text class="tl" x="415.6" y="800.5">HongKong/XM-PII-S4/2020</text></g>
<g id="t44"><circle class="c5" cx="385.4" cy="813.3" r="6.5"/><text class="tl" x="398.4" y="817.8">HongKong/HKPU1_2101/2020</text></g>
<g id="t45"><circle class="c3" cx="402.6" cy="830.6" r="6.5"/><text class="tl" x="415.6" y="835.1">HongKong/VM20001061/2020</text></g>
<g id="t46"><circle class="c3" cx="420.2" cy="848" r="6.5"/><text class="tl" x="433.2" y="852.5">USA/CA1/2020</text></g>
<g id="t47"><circle class="c3" cx="577.9" cy="865.3" r="6.5"/><text class="tl" x="590.9" y="869.8">Shanghai/SH0017/2020</text></g>
<g id="t48"><circle class="c3" cx="279.4" cy="882.6" r="6.5"/><text class="tl" x="292.4" y="887.1">Sichuan/IVDC-SC-001/2020</text></g>
<g id="t49"><circle class="c1" cx="1331" cy="899.9" r="6.5"/><text class="tl" x="1344" y="904.4">NewZealand/20VR0276/2020</text></g>
</g>

<!-- ================= BOTTOM PANEL ================= -->
<line x1="0" y1="988.3" x2="1757" y2="988.3" stroke="#dedede" stroke-width="2"/>
<g id="bottom-grid">
<line class="gl" x1="52.9" y1="1306" x2="52.9" y2="1826"/>
<line class="gd" x1="150" y1="1210" x2="150" y2="1826"/>
<line class="gl" x1="247.1" y1="1047" x2="247.1" y2="1826"/>
<line class="gd" x1="344.2" y1="1047" x2="344.2" y2="1826"/>
<line class="gl" x1="441.3" y1="1047" x2="441.3" y2="1826"/>
<line class="gd" x1="538.4" y1="1047" x2="538.4" y2="1826"/>
<line class="gl" x1="635.5" y1="1047" x2="635.5" y2="1826"/>
<line class="gd" x1="732.6" y1="1047" x2="732.6" y2="1826"/>
<line class="gl" x1="829.7" y1="1047" x2="829.7" y2="1826"/>
<line class="gd" x1="926.8" y1="1047" x2="926.8" y2="1826"/>
<line class="gl" x1="1023.9" y1="1047" x2="1023.9" y2="1826"/>
<line class="gd" x1="1121" y1="1047" x2="1121" y2="1826"/>
<line class="gl" x1="1218.1" y1="1047" x2="1218.1" y2="1826"/>
<line class="gd" x1="1315.2" y1="1047" x2="1315.2" y2="1826"/>
</g>
<g id="bottom-header">
<text class="ttl" x="2" y="1013.3">Phylogeny</text>
<text class="sel" x="7.7" y="1041.7">Solde_C</text>
<polyline points="81.5,1033.5 89,1041 96.5,1033.5" fill="none" stroke="#333" stroke-width="3"/>
<rect x="1608.5" y="990" width="160" height="32.7" rx="4" fill="#fff" stroke="#dcdcdc" stroke-width="1.5"/>
<text class="btn" x="1618.5" y="1012.7">RESET LAYOUT</text>
</g>
<g id="bottom-legend">
<rect x="14.5" y="1057" width="25.5" height="25.5" fill="#fde184" stroke="#f2cb68" stroke-width="1.5"/>
<rect x="14.5" y="1086.5" width="25.5" height="25.5" fill="#f9c86c" stroke="#ebb154" stroke-width="1.5"/>
<rect x="14.5" y="1116" width="25.5" height="25.5" fill="#f3a663" stroke="#e08d4a" stroke-width="1.5"/>
<rect x="14.5" y="1145.5" width="25.5" height="25.5" fill="#ef8457" stroke="#db6b40" stroke-width="1.5"/>
<text class="lg" x="52.8" y="1075.5">-2</text>
<text class="lg" x="52.8" y="1104.5">-1</text>
<text class="lg" x="52.8" y="1134">0</text>
<text class="lg" x="52.8" y="1163.5">1</text>
<text class="mu" x="14.2" y="1196.7">M1 : U29148C</text>
<text class="mu" x="14.2" y="1216.7">M2 : U27299C</text>
<text class="mu" x="14.2" y="1236.7">M3 : A14164C</text>
<text class="mu" x="14.2" y="1256.7">M4 : A16076C</text>
<text class="mu" x="14.2" y="1276.7">M5 : A29782C</text>
<text class="mu" x="14.2" y="1296.7">M6 : G26416U</text>
</g>
<g id="bottom-axis">
<text class="ax" x="150" y="1853.3">2020-Feb-26</text>
<text class="ax" x="344.2" y="1853.3">2020-Mar-11</text>
<text class="ax" x="538.4" y="1853.3">2020-Mar-25</text>
<text class="ax" x="732.6" y="1853.3">2020-Apr-08</text>
<text class="ax" x="926.8" y="1853.3">2020-Apr-22</text>
<text class="ax" x="1121" y="1853.3">2020-May-06</text>
<text class="ax" x="1315.2" y="1853.3">2020-May-20</text>
<text class="ax" x="666" y="1878.3">Date</text>
</g>

<g id="bottom-tips">
<g id="b01"><circle class="z0" cx="662.3" cy="1046" r="6.5"/><text class="bl" x="675.8" y="1051.5">Brazil/L1_CAMPI8/2020</text></g>
<g id="b02"><circle class="z0" cx="731.2" cy="1066.5" r="6.5"/><text class="bl" x="744.7" y="1072">Brazil/RJ0261/2020</text></g>
<g id="b03"><circle class="z0" cx="510.9" cy="1087" r="6.5"/><text class="bl" x="524.4" y="1092.5">Uruguay/UY-NYUMC857/2020</text></g>
<g id="b04"><circle class="z0" cx="690.2" cy="1107.6" r="6.5"/><text class="bl" x="703.7" y="1113.1">Chile/Santiago_74/2020</text></g>
<g id="b05"><circle class="z0" cx="828" cy="1128.1" r="6.5"/><text class="bl" x="841.5" y="1133.6">Brazil/AP164082-IEC/2020</text></g>
<g id="b06"><circle class="m1" cx="965.8" cy="1148.6" r="6.5"/><text class="bl" x="979.3" y="1154.1">Brazil/L5_CAMPI95/2020</text></g>
<g id="b07"><circle class="z0" cx="635.5" cy="1169.1" r="6.5"/><text class="bl" x="649" y="1174.6">Chile/Santiago_56/2020</text></g>
<g id="b08"><circle class="z0" cx="497.5" cy="1189.6" r="6.5"/><text class="bl" x="511" y="1195.1">Brazil/DF-891/2020</text></g>
<g id="b09"><circle class="m1" cx="855.5" cy="1210.2" r="6.5"/><text class="bl" x="869" y="1215.7">Brazil/RJ-2208/2020</text></g>
<g id="b10"><circle class="z0" cx="731.2" cy="1230.7" r="6.5"/><text class="bl" x="744.7" y="1236.2">Brazil/L1_CAMPI16/2020</text></g>
<g id="b11"><circle class="p1" cx="1158.6" cy="1251.2" r="6.5"/><text class="bl" x="1172.1" y="1256.7">Argentina/Heritas_HG007/2020</text></g>
<g id="b12"><circle class="z0" cx="855.5" cy="1271.7" r="6.5"/><text class="bl" x="869" y="1277.2">Argentina/PAIS_A023/2020</text></g>
<g id="b13"><circle class="p1" cx="1131.1" cy="1292.2" r="6.5"/><text class="bl" x="1144.6" y="1297.7">Argentina/Heritas_HG006/2020</text></g>
<g id="b14"><circle class="z0" cx="869.7" cy="1312.8" r="6.5"/><text class="bl" x="883.2" y="1318.3">Argentina/PAIS_A026/2020</text></g>
<g id="b15"><circle class="m1" cx="869.7" cy="1333.3" r="6.5"/><text class="bl" x="883.2" y="1338.8">Argentina/PAIS_A024/2020</text></g>
<g id="b16"><circle class="m2" cx="924.4" cy="1353.8" r="6.5"/><text class="bl" x="937.9" y="1359.3">Argentina/Heritas_HG001/2020</text></g>
<g id="b17"><circle class="z0" cx="704.4" cy="1374.3" r="6.5"/><text class="bl" x="717.9" y="1379.8">Brazil/L20_CD436/2020</text></g>
<g id="b18"><circle class="m1" cx="662.3" cy="1394.8" r="6.5"/><text class="bl" x="675.8" y="1400.3">Chile/Santiago_76/2020</text></g>
<g id="b19"><circle class="m1" cx="538.8" cy="1415.4" r="6.5"/><text class="bl" x="552.3" y="1420.9">Brazil/RJ-1111/2020</text></g>
<g id="b20"><circle class="m2" cx="1380" cy="1435.9" r="6.5"/><text class="bl" x="1393.5" y="1441.4">Uruguay/UY-667/2020</text></g>
<g id="b21"><circle class="m2" cx="1380" cy="1456.4" r="6.5"/><text class="bl" x="1393.5" y="1461.9">Uruguay/UY-652/2020</text></g>
<g id="b22"><circle class="m2" cx="1380" cy="1476.9" r="6.5"/><text class="bl" x="1393.5" y="1482.4">Uruguay/UY-651/2020</text></g>
<g id="b23"><circle class="m2" cx="1380" cy="1497.4" r="6.5"/><text class="bl" x="1393.5" y="1502.9">Uruguay/UY-650/2020</text></g>
<g id="b24"><circle class="m2" cx="1380" cy="1518" r="6.5"/><text class="bl" x="1393.5" y="1523.5">Uruguay/UY-957/2020</text></g>
<g id="b25"><circle class="z0" cx="483.4" cy="1538.5" r="6.5"/><text class="bl" x="496.9" y="1544">Chile/Santiago_71/2020</text></g>
<g id="b26"><circle class="z0" cx="635.5" cy="1559" r="6.5"/><text class="bl" x="649" y="1564.5">Brazil/PA0227/2020</text></g>
<g id="b27"><circle class="m1" cx="455.4" cy="1579.5" r="6.5"/><text class="bl" x="468.9" y="1585">Brazil/L7_CD67/2020</text></g>
<g id="b28"><circle class="p1" cx="470" cy="1600" r="6.5"/><text class="bl" x="483.5" y="1605.5">Brazil/RJ-763/2020</text></g>
<g id="b29"><circle class="m1" cx="662.3" cy="1620.6" r="6.5"/><text class="bl" x="675.8" y="1626.1">Brazil/RJ-1627/2020</text></g>
<g id="b30"><circle class="m1" cx="662.3" cy="1641.1" r="6.5"/><text class="bl" x="675.8" y="1646.6">Brazil/RJ0256/2020</text></g>
<g id="b31"><circle class="m1" cx="207.8" cy="1661.6" r="6.5"/><text class="bl" x="221.3" y="1667.1">Argentina/PAIS_A001/2020</text></g>
<g id="b32"><circle class="m1" cx="194.4" cy="1682.1" r="6.5"/><text class="bl" x="207.9" y="1687.6">Netherlands/Helmond_1363548/2020</text></g>
<g id="b33"><circle class="m1" cx="194.4" cy="1702.6" r="6.5"/><text class="bl" x="207.9" y="1708.1">Switzerland/AG7120/2020</text></g>
<g id="b34"><circle class="z0" cx="1089.8" cy="1723.2" r="6.5"/><text class="bl" x="1103.3" y="1728.7">Germany/BAV-MVP0253/2020</text></g>
<g id="b35"><circle class="m1" cx="263.3" cy="1743.7" r="6.5"/><text class="bl" x="276.8" y="1749.2">CzechRepublic/ChVir1912/2020</text></g>
<g id="b36"><circle class="m1" cx="166.5" cy="1764.2" r="6.5"/><text class="bl" x="180" y="1769.7">Netherlands/NoordHolland_10001/2020</text></g>
<g id="b37"><circle class="m1" cx="179.9" cy="1784.7" r="6.5"/><text class="bl" x="193.4" y="1790.2">Switzerland/GE1402/2020</text></g>
<g id="b38"><circle class="m2" cx="179.9" cy="1805.2" r="6.5"/><text class="bl" x="193.4" y="1810.7">Switzerland/GE1422/2020</text></g>
<g id="b39"><circle class="z0" cx="179.9" cy="1825.8" r="6.5"/><text class="bl" x="193.4" y="1831.3">Netherlands/NoordHolland_10002/2020</text></g>
</g>
</svg>
